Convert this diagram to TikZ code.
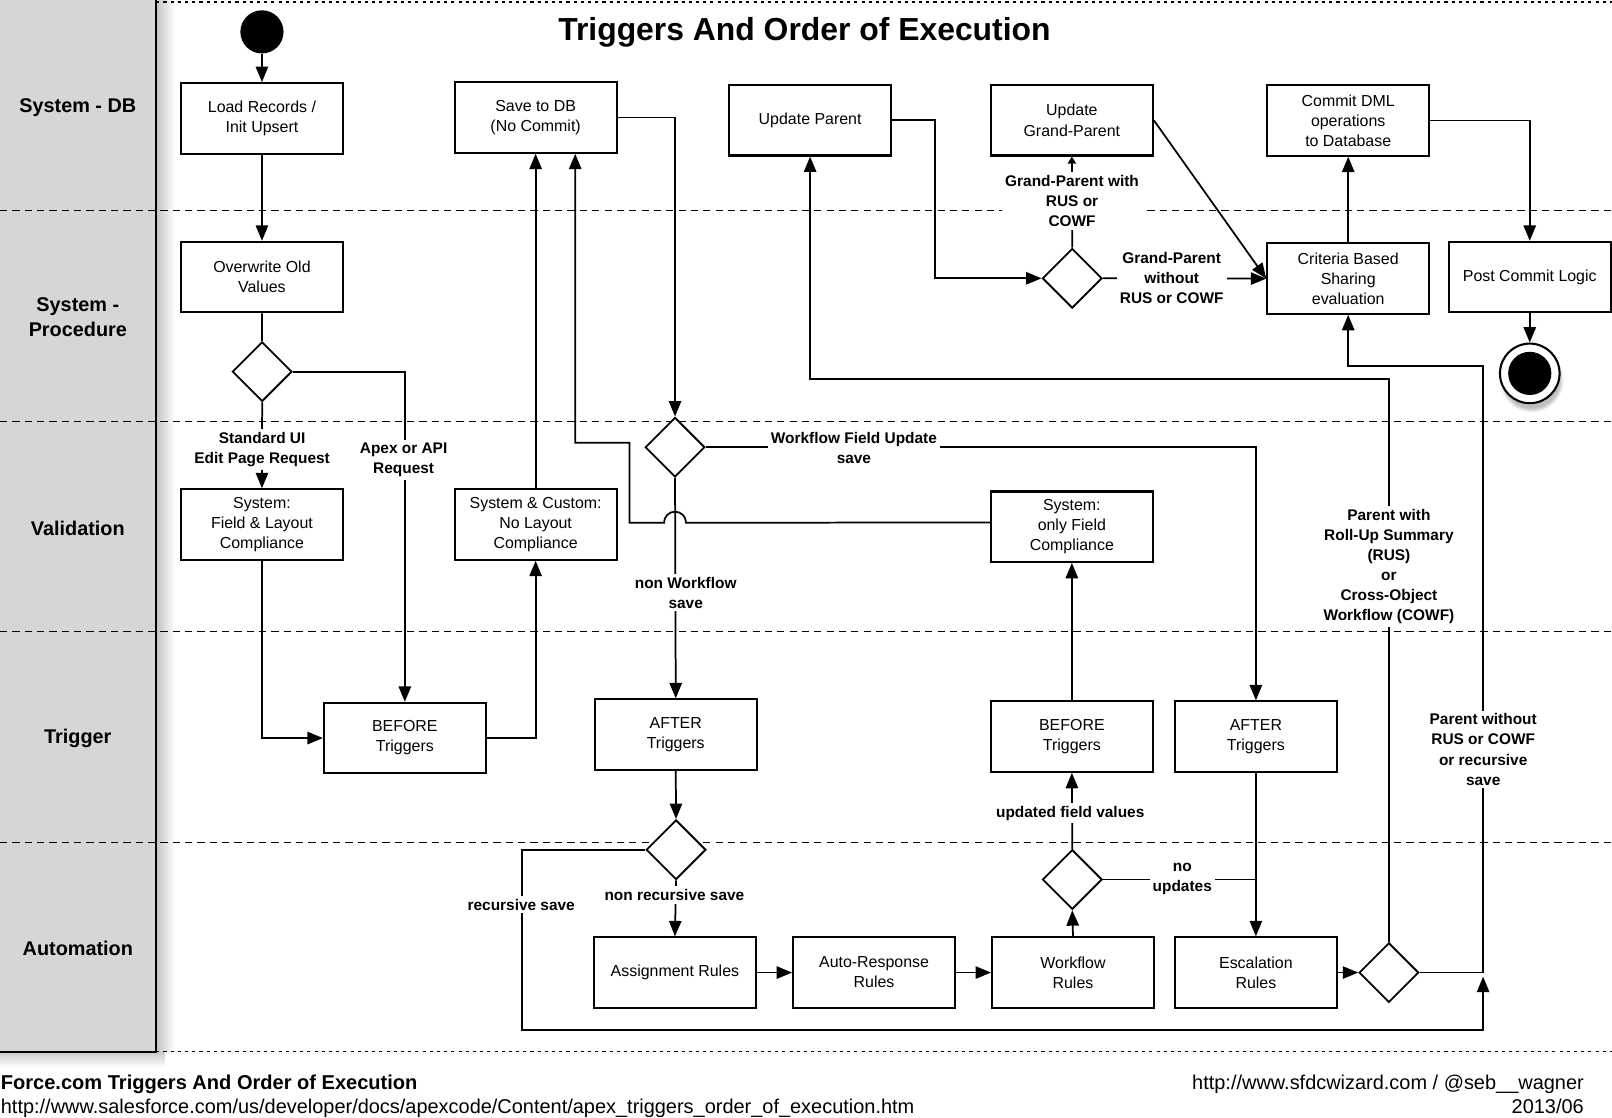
\documentclass[tikz,border=0pt]{standalone}
\usepackage{fontspec}
\setmainfont{Liberation Sans}
\usetikzlibrary{arrows.meta,shapes.geometric,shadows}
\definecolor{lanegray}{RGB}{214,214,214}
\begin{document}
\begin{tikzpicture}[x=1pt,y=-1pt,line width=1.7pt,
 box/.style={draw,fill=white,line width=2pt,minimum width=157.5pt,minimum height=68.5pt,inner sep=0pt,align=center,font=\fontsize{15.5}{19.5}\selectfont},
 dec/.style={draw,fill=white,diamond,aspect=1,minimum size=58pt,inner sep=0pt,line width=1.8pt},
 lbl/.style={fill=white,align=center,inner sep=3pt,font=\fontsize{15}{19.5}\selectfont\bfseries},
 lanelbl/.style={align=center,font=\fontsize{19.3}{23.5}\selectfont\bfseries},
 arr/.style={-{Triangle[length=15pt,width=12pt]}},
 sarr/.style={-{Triangle[length=7pt,width=8pt]}},
 laneline/.style={line width=1.4pt,dash pattern=on 7pt off 5pt},
 dotline/.style={line width=1.4pt,dash pattern=on 3pt off 4pt}]
\useasboundingbox (0,0) rectangle (1568,1087);
% ---------- lanes background ----------
\fill[lanegray] (0,0) rectangle (152,1023);
\shade[left color=black!22,right color=white] (153,0) rectangle (170,1023);
\shade[top color=black!20,bottom color=white] (0,1024) rectangle (160,1038);
\draw[laneline] (0,205) -- (1568,205);
\draw[laneline] (0,410) -- (1568,410);
\draw[laneline] (0,614.5) -- (1568,614.5);
\draw[laneline] (0,819.5) -- (1568,819.5);
\draw[dotline] (152,2) -- (1568,2);
\draw[dotline] (152,1023) -- (1568,1023);
\draw[line width=2pt] (152,0) -- (152,1023) -- (0,1023);
% ---------- lane labels ----------
\node[lanelbl] (ln1) at (75.7,104.4) {System - DB};
\node[lanelbl] (ln2) at (75.7,308.5) {System -\\Procedure};
\node[lanelbl] (ln3) at (75.7,513.9) {Validation};
\node[lanelbl] (ln4) at (75.7,718.2) {Trigger};
\node[lanelbl] (ln5) at (75.7,922.5) {Automation};
% ---------- title ----------
\node[anchor=base,font=\fontsize{31}{36}\selectfont\bfseries] (title) at (782.5,39.6) {Triggers And Order of Execution};
% ---------- nodes ----------
\node[circle,fill=black,minimum size=42pt,inner sep=0pt] (start) at (254.8,31) {};
\node[box] (load) at (254.8,115.1) {Load Records /\\Init Upsert};
\node[box] (save) at (521,114.3) {Save to DB\\(No Commit)};
\node[box] (upar) at (788,117) {Update Parent};
\node[box] (ugp) at (1042.6,117) {Update\\Grand-Parent};
\node[box] (commit) at (1311.4,117.2) {Commit DML\\operations\\to Database};
\node[box] (over) at (254.8,269.5) {Overwrite Old\\Values};
\node[dec] (d1) at (255,361.5) {};
\node[dec] (dgp) at (1043,270.7) {};
\node[box] (crit) at (1311.4,271) {Criteria Based\\Sharing\\evaluation};
\node[box] (post) at (1488,269.5) {Post Commit Logic};
\node[circle,draw,line width=2pt,fill=white,minimum size=58pt,inner sep=0pt,
  circular drop shadow={shadow xshift=1.5pt,shadow yshift=-6pt,shadow scale=1.08,opacity=0.5}] (endc) at (1488,363.2) {};
\fill (endc.center) circle (21);
\node[dec] (dwf) at (656.6,435) {};
\node[box] (sfl) at (254.8,510.2) {System:\\Field \& Layout\\Compliance};
\node[box] (scn) at (521,510.2) {System \& Custom:\\No Layout\\Compliance};
\node[box] (sof) at (1042.6,512.3) {System:\\only Field\\Compliance};
\node[box] (bl) at (393.8,717.9) {BEFORE\\Triggers};
\node[box] (al) at (657.3,714.5) {AFTER\\Triggers};
\node[box] (br) at (1042.6,716.5) {BEFORE\\Triggers};
\node[box] (ar) at (1221.6,716.5) {AFTER\\Triggers};
\node[dec] (dr) at (657.6,826.5) {};
\node[dec] (du) at (1043,855.5) {};
\node[box] (asg) at (656.5,946) {Assignment Rules};
\node[box] (auto) at (850.2,946) {Auto-Response\\Rules};
\node[box] (wfr) at (1043.7,946) {Workflow\\Rules};
\node[box] (esc) at (1221.6,946) {Escalation\\Rules};
\node[dec] (df) at (1351,946) {};
% ---------- connectors ----------
\draw[arr] (start) -- (load);
\draw[arr] (load) -- (over);
\draw (over) -- (d1);
\draw[arr] (d1.south) -- (sfl.north);
\draw[arr] (d1.east) -| (bl.north);
\draw[arr] (sfl.south) |- (bl.west);
\draw[arr] (bl.east) -| (scn.south);
\draw[arr] (scn.north) -- (save.south);
\draw[arr] (save.east) -| (dwf.north);
\draw[arr] (dwf.east) -| (ar.north);
\draw[arr] (dwf.south) -- (al.north);
\draw[arr] ([yshift=4pt]sof.west) -- (667.3,508.4) arc[start angle=0,end angle=-180,radius=10.7]
   -- (612.2,508.4) -- (612.2,430.6) -- (559.5,430.6) -- (559.5,0 |- save.south);
\draw[arr] (al.south) -- (dr.north);
\draw[arr] (dr.south) -- (asg.north);
\coordinate (recend) at (1442.6,950);
\draw[arr] (dr.west) -- (508,826.5) -- (508,1002) -- (1442.6,1002) -- (recend);
\draw[arr] (asg) -- (auto);
\draw[arr] (auto) -- (wfr);
\draw[arr] (wfr.north) -- (du.south);
\draw[arr] (du.north) -- (br.south);
\draw[arr] (br.north) -- (sof.south);
\draw[arr] (ar.south) -- (esc.north);
\draw (du.east) -- (ar.south |- du.east);
\draw[arr] (esc.east) -- (df.west);
\draw[arr] (df.east) -| (1442.6,356) -| (crit.south);
\draw[arr] (df.north) -- (1351,368.7) -| (upar.south);
\draw[arr] (upar.east) -- ++(42,0) |- (dgp.west);
\draw[sarr] (dgp.north) -- (ugp.south);
\draw[arr] (dgp.east) -- (crit.west);
\draw[arr] (ugp.east) -- (crit.west);
\draw[arr] (crit.north) -- (commit.south);
\draw[arr] (commit.east) -| (post.north);
\draw[arr] (post) -- (endc);
% ---------- connector labels ----------
\node[lbl] (lstd) at (255,437) {Standard UI\\Edit Page Request};
\node[lbl] (lapi) at (392.6,447) {Apex or API\\Request};
\node[lbl] (lwfu) at (830.6,436) {Workflow Field Update\\save};
\node[lbl] (lnws) at (667,576.5) {non Workflow\\save};
\node[lbl] (lgpw) at (1042.8,195.7) {Grand-Parent with\\RUS or\\COWF};
\node[lbl] (lgpo) at (1139.7,270.7) {Grand-Parent\\without\\RUS or COWF};
\node[lbl] (lrus) at (1351,551.2) {Parent with\\Roll-Up Summary\\(RUS)\\or\\Cross-Object\\Workflow (COWF)};
\node[lbl] (lpwo) at (1442.7,729) {Parent without\\RUS or COWF\\or recursive\\save};
\node[lbl] (lufv) at (1041,791) {updated field values};
\node[lbl] (lnou) at (1150,855) {no\\updates};
\node[lbl] (lnrs) at (656,870.6) {non recursive save};
\node[lbl] (lrs) at (507,880) {recursive save};
% ---------- footer ----------
\node[anchor=base west,inner sep=0pt,font=\fontsize{19.5}{23}\selectfont\bfseries] (f1) at (0,1060) {Force.com Triggers And Order of Execution};
\node[anchor=base west,inner sep=0pt,font=\fontsize{19.4}{23}\selectfont] (f2) at (0,1083) {http://www.salesforce.com/us/developer/docs/apexcode/Content/apex\_triggers\_order\_of\_execution.htm};
\node[anchor=base east,inner sep=0pt,font=\fontsize{19.4}{23}\selectfont] (f3) at (1541.4,1060) {http://www.sfdcwizard.com / @seb\_\_wagner};
\node[anchor=base east,inner sep=0pt,font=\fontsize{19.4}{23}\selectfont] (f4) at (1541.4,1083) {2013/06};
\end{tikzpicture}
\end{document}
